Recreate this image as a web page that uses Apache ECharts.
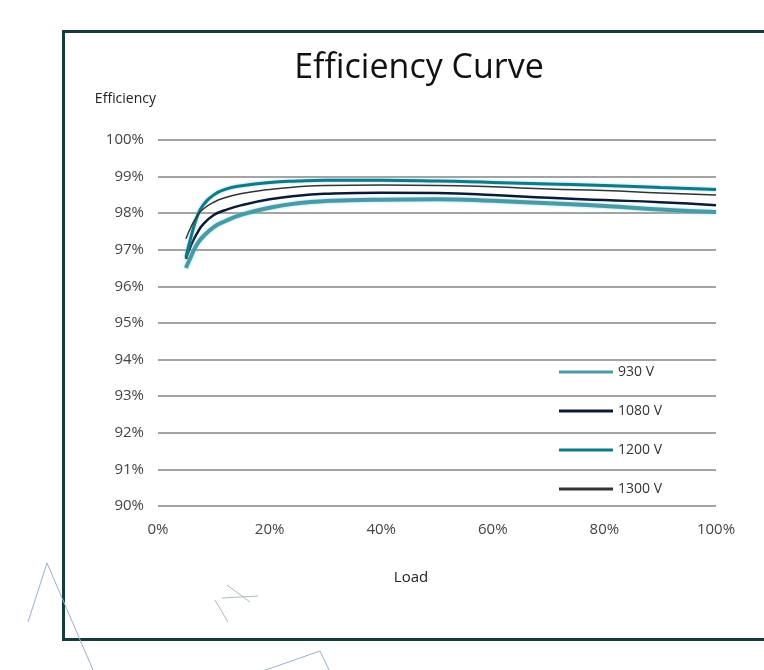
<!DOCTYPE html>
<html>
<head>
<meta charset="utf-8">
<script src="https://cdn.jsdelivr.net/npm/echarts@6/dist/echarts.min.js"></script>
<style>
  html, body { margin: 0; padding: 0; background: #fff; }
  #main { width: 764px; height: 670px; }
</style>
</head>
<body>
<div id="main"></div>
<script>
// load points (%)
var loads = [5, 6, 7, 8, 10, 12, 15, 20, 25, 30, 40, 50, 60, 70, 80, 90, 100];
// efficiency (%) per voltage
var eff930  = [96.5, 96.85, 97.15, 97.35, 97.62, 97.78, 97.96, 98.15, 98.27, 98.33, 98.37, 98.38, 98.34, 98.27, 98.2, 98.1, 98.03];
var eff1080 = [96.75, 97.15, 97.45, 97.68, 97.95, 98.08, 98.22, 98.38, 98.48, 98.53, 98.56, 98.55, 98.5, 98.42, 98.36, 98.3, 98.22];
var eff1200 = [96.8, 97.4, 97.9, 98.2, 98.5, 98.65, 98.75, 98.84, 98.88, 98.9, 98.9, 98.88, 98.84, 98.8, 98.76, 98.7, 98.65];
var eff1300 = [97.3, 97.65, 97.92, 98.1, 98.3, 98.42, 98.54, 98.65, 98.72, 98.76, 98.77, 98.76, 98.72, 98.66, 98.62, 98.55, 98.5];
var seriesNames = ['930 V', '1080 V', '1200 V', '1300 V'];

function pairs(ys) {
  var out = [];
  for (var i = 0; i < loads.length; i++) {
    out.push([loads[i], ys[i]]);
  }
  return out;
}

var myChart = echarts.init(document.getElementById('main'));
var font = '"Open Sans", "Noto Sans", sans-serif';

var option = {
  backgroundColor: '#fff',
  textStyle: { fontFamily: font },
  title: {
    text: 'Efficiency Curve',
    left: 414,
    top: 46,
    textAlign: 'center',
    textStyle: { fontFamily: font, fontSize: 34, fontWeight: 'normal', color: '#111' }
  },
  legend: {
    orient: 'vertical',
    left: 554,
    top: 360,
    icon: 'rect',
    itemWidth: 54,
    itemHeight: 3,
    itemGap: 25,
    textStyle: { fontFamily: font, fontSize: 14, color: '#333' },
    data: seriesNames
  },
  grid: { left: 158, right: 48, top: 140, bottom: 164 },
  xAxis: {
    type: 'value',
    min: 0,
    max: 100,
    interval: 20,
    name: 'Load',
    nameLocation: 'middle',
    nameGap: 64,
    nameTextStyle: { fontFamily: font, fontSize: 15, color: '#222', padding: [0, 52, 0, 0] },
    axisLine: { show: false },
    axisTick: { show: false },
    splitLine: { show: false },
    axisLabel: { formatter: '{value}%', fontSize: 15, color: '#444', margin: 16 }
  },
  yAxis: {
    type: 'value',
    min: 90,
    max: 100,
    interval: 1,
    name: 'Efficiency',
    nameLocation: 'end',
    nameGap: 34,
    nameTextStyle: { fontFamily: font, fontSize: 14, color: '#222', align: 'right', padding: [0, 2, 0, 0] },
    axisLine: { show: false },
    axisTick: { show: false },
    axisLabel: { formatter: '{value}%', fontSize: 15, color: '#444', margin: 14 },
    splitLine: { lineStyle: { color: '#a3a3a3', width: 2 } }
  },
  series: [
    {
      name: '930 V', type: 'line', smooth: true, symbol: 'none', data: pairs(eff930),
      lineStyle: { color: '#4a9aa6', width: 4, shadowColor: 'rgba(120,215,235,0.8)', shadowBlur: 3 },
      itemStyle: { color: '#4a9aa6' }
    },
    {
      name: '1080 V', type: 'line', smooth: true, symbol: 'none', data: pairs(eff1080),
      lineStyle: { color: '#0c1a36', width: 2.5 },
      itemStyle: { color: '#0c1a36' }
    },
    {
      name: '1200 V', type: 'line', smooth: true, symbol: 'none', data: pairs(eff1200),
      lineStyle: { color: '#127786', width: 3, shadowColor: 'rgba(120,215,235,0.8)', shadowBlur: 3 },
      itemStyle: { color: '#127786' }
    },
    {
      name: '1300 V', type: 'line', smooth: true, symbol: 'none', data: pairs(eff1300),
      lineStyle: { color: '#333', width: 1.5 },
      itemStyle: { color: '#333' }
    }
  ],
  graphic: [
    {
      type: 'rect', left: 62, top: 30, z: -1,
      shape: { width: 720, height: 608 },
      style: { fill: 'transparent', stroke: '#163a3d', lineWidth: 3 }
    },
    { type: 'line', shape: { x1: 47, y1: 563, x2: 28, y2: 622 }, style: { stroke: '#9bb0c8', lineWidth: 1 } },
    { type: 'line', shape: { x1: 47, y1: 563, x2: 93, y2: 670 }, style: { stroke: '#9bb0c8', lineWidth: 1 } },
    { type: 'line', shape: { x1: 320, y1: 651, x2: 260, y2: 672 }, style: { stroke: '#9bb0c8', lineWidth: 1 } },
    { type: 'line', shape: { x1: 320, y1: 651, x2: 330, y2: 672 }, style: { stroke: '#9bb0c8', lineWidth: 1 } },
    { type: 'line', shape: { x1: 227, y1: 585, x2: 250, y2: 602 }, style: { stroke: '#b0b8c0', lineWidth: 1 } },
    { type: 'line', shape: { x1: 222, y1: 598, x2: 258, y2: 596 }, style: { stroke: '#b0b8c0', lineWidth: 1 } },
    { type: 'line', shape: { x1: 215, y1: 600, x2: 228, y2: 622 }, style: { stroke: '#b0b8c0', lineWidth: 1 } }
  ]
};

myChart.setOption(option);
</script>
</body>
</html>
